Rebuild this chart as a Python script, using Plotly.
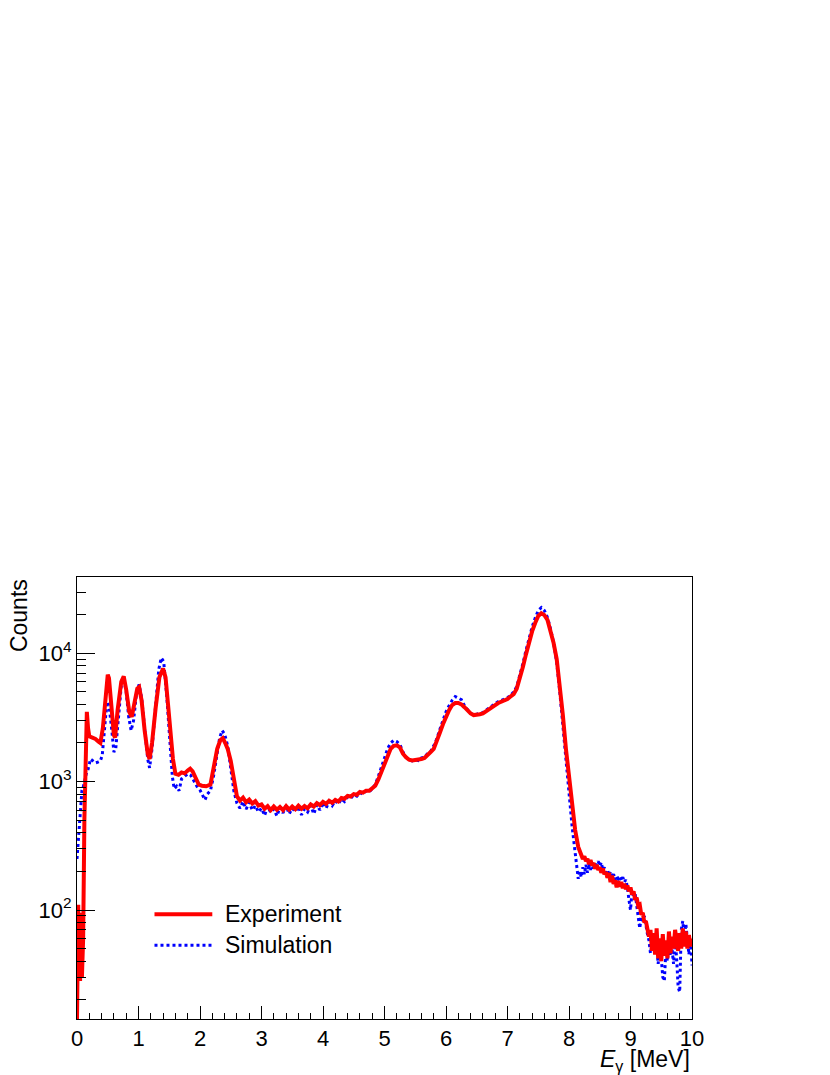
"""Gamma spectrum: experiment vs simulation, log scale (ROOT-like style)."""
import plotly.graph_objects as go


def grid(start, stop, step):
    n = round((stop - start) / step)
    return [round(start + i * step, 3) for i in range(n + 1)]


# ---- experiment (counts) ----
exp_e_low = [
    0.00, 0.02, 0.03, 0.04, 0.05, 0.06, 0.08, 0.10, 0.12, 0.14, 0.16, 0.18,
    0.20, 0.25, 0.30, 0.35, 0.38, 0.42, 0.46, 0.50, 0.52, 0.56, 0.60, 0.62,
    0.66, 0.72, 0.76, 0.80, 0.85, 0.89, 0.93, 0.98, 1.01, 1.05, 1.10, 1.15,
    1.18, 1.22, 1.28, 1.34, 1.40, 1.44, 1.48, 1.52, 1.56, 1.60, 1.65, 1.70,
    1.75, 1.80, 1.84, 1.88, 1.93, 1.98, 2.03, 2.10, 2.17, 2.22, 2.28, 2.33,
    2.37, 2.41, 2.45, 2.50, 2.55,
]
exp_c_low = [
    14, 110, 30, 95, 28, 80, 30, 60, 500, 1800, 3500, 2600,
    2250, 2200, 2150, 2050, 2000, 2600, 4500, 6800, 6400, 3500, 2300, 2200,
    3600, 6000, 6600, 5200, 3500, 3200, 4000, 5300, 5450, 4300, 2500, 1650,
    1500, 2000, 3800, 6500, 7600, 6500, 4000, 2500, 1500, 1150, 1130, 1180,
    1160, 1220, 1260, 1200, 1050, 950, 930, 920, 950, 1300, 1800, 2100,
    2180, 2000, 1800, 1450, 1000,
]
# 2.60 - 4.80 MeV, 0.05 MeV steps
exp_c_flat = [
    770, 710, 750, 690, 725, 675, 705, 650, 665, 615,
    645, 600, 640, 605, 635, 600, 645, 605, 640, 610,
    650, 615, 645, 620, 665, 640, 680, 655, 695, 670,
    710, 685, 720, 700, 745, 735, 775, 765, 800, 790,
    830, 820, 850, 850, 885,
]
# 4.85 - 8.15 MeV, 0.05 MeV steps
exp_c_peaks = [
    930, 1040, 1200, 1400, 1600, 1800, 1900, 1920, 1850, 1650,
    1550, 1480, 1460, 1470, 1500, 1500, 1530, 1600, 1700, 1800,
    2050, 2400, 2800, 3200, 3600, 3950, 4100, 4100, 4000, 3800,
    3550, 3400, 3300, 3300, 3350, 3400, 3550, 3700, 3850, 3950,
    4100, 4200, 4300, 4400, 4600, 4800, 5300, 6300, 7800, 9800,
    12200, 14800, 17200, 19500, 20500, 19800, 18200, 15000, 12000, 9000,
    5800, 3300, 1800, 1050, 620, 420, 310,
]
# 8.20 - 10.00 MeV, 0.025 MeV steps
exp_c_tail = [
    275, 250, 262, 240, 250, 228, 245, 222, 232, 210,
    225, 205, 215, 195, 210, 190, 198, 178, 195, 165,
    185, 160, 170, 150, 168, 152, 165, 148, 160, 145,
    155, 140, 150, 132, 140, 120, 125, 108, 110, 92,
    95, 80, 82, 70, 62, 70, 48, 66, 45, 72,
    42, 60, 40, 65, 44, 58, 42, 68, 46, 62,
    50, 70, 55, 48, 66, 50, 72, 52, 68, 50,
    64, 52, 60,
]

# ---- simulation ----
sim_e_low = [
    0.00, 0.02, 0.04, 0.06, 0.08, 0.10, 0.12, 0.15, 0.18, 0.22, 0.26, 0.30,
    0.34, 0.38, 0.41, 0.44, 0.47, 0.50, 0.53, 0.57, 0.60, 0.63, 0.67, 0.72,
    0.76, 0.80, 0.84, 0.88, 0.92, 0.97, 1.01, 1.05, 1.10, 1.15, 1.18, 1.22,
    1.28, 1.33, 1.37, 1.41, 1.46, 1.50, 1.55, 1.58, 1.62, 1.66, 1.70, 1.75,
    1.80, 1.85, 1.90, 1.95, 2.00, 2.04, 2.08, 2.12, 2.17, 2.22, 2.27, 2.32,
    2.36, 2.40, 2.45, 2.50, 2.55,
]
sim_c_low = [
    250, 350, 480, 700, 850, 900, 1000, 1150, 1250, 1500, 1450, 1400,
    1420, 1450, 1600, 2300, 3400, 4200, 3600, 2400, 1700, 1800, 3200, 5600,
    6400, 5000, 3200, 2500, 3000, 5000, 5700, 4500, 2600, 1500, 1280, 1800,
    4000, 7500, 9200, 8600, 4600, 2300, 1100, 880, 920, 850, 1050, 1100,
    1150, 1120, 1000, 920, 860, 780, 720, 800, 850, 1100, 1600, 2200,
    2500, 2350, 1900, 1300, 850,
]
# 2.60 - 4.80 MeV, 0.05 MeV steps
sim_c_flat = [
    680, 620, 700, 610, 690, 600, 650, 580, 620, 545,
    640, 575, 610, 540, 630, 570, 650, 560, 620, 585,
    640, 550, 615, 580, 650, 560, 660, 600, 690, 620,
    700, 650, 710, 670, 735, 700, 760, 740, 790, 770,
    820, 800, 845, 830, 880,
]
# 4.85 - 8.05 MeV, 0.05 MeV steps
sim_c_peaks = [
    950, 1100, 1300, 1550, 1800, 2000, 2100, 2050, 1950, 1700,
    1550, 1480, 1450, 1480, 1460, 1530, 1550, 1650, 1720, 1900,
    2150, 2550, 3000, 3500, 3900, 4300, 4600, 4500, 4350, 3900,
    3600, 3400, 3300, 3350, 3400, 3450, 3600, 3750, 3950, 4050,
    4200, 4300, 4450, 4500, 4700, 5000, 5500, 6600, 8300, 10500,
    13200, 16000, 18800, 21500, 22700, 21500, 19000, 15500, 12000, 8500,
    5000, 2700, 1400, 800, 450,
]
# 8.10 - 10.00 MeV, 0.025 MeV steps
sim_c_tail = [
    280, 215, 175, 200, 180, 215, 190, 225, 195, 230,
    205, 235, 210, 230, 215, 240, 220, 235, 205, 215,
    195, 205, 185, 200, 180, 190, 172, 185, 175, 182,
    170, 180, 165, 172, 150, 120, 100, 140, 130, 135,
    110, 90, 72, 88, 82, 90, 75, 65, 58, 46,
    55, 60, 45, 52, 38, 55, 42, 30, 28, 48,
    40, 55, 44, 50, 38, 60, 42, 25, 23, 70,
    82, 60, 78, 55, 45, 60, 37,
]

exp_energy = exp_e_low + grid(2.60, 4.80, 0.05) + grid(4.85, 8.15, 0.05) + grid(8.20, 10.0, 0.025)
exp_counts = exp_c_low + exp_c_flat + exp_c_peaks + exp_c_tail
sim_energy = sim_e_low + grid(2.60, 4.80, 0.05) + grid(4.85, 8.05, 0.05) + grid(8.10, 10.0, 0.025)
sim_counts = sim_c_low + sim_c_flat + sim_c_peaks + sim_c_tail
assert len(exp_energy) == len(exp_counts) and len(sim_energy) == len(sim_counts)

x_ticks = list(range(0, 11))
y_ticks = [100, 1000, 10000]
y_ticktext = ["10<sup>2</sup>", "10<sup>3</sup>", "10<sup>4</sup>"]
y_minor = [m * 10 ** d for d in (1, 2, 3, 4) for m in range(2, 10)]

FONT = "Liberation Sans, Arial, Helvetica, sans-serif"
FS = 23
TICK_FS = 22

fig = go.Figure()
fig.add_trace(go.Scatter(
    x=sim_energy, y=sim_counts, mode="lines", name="Simulation",
    line=dict(color="#0000ff", width=3, dash="dot"), showlegend=False,
))
fig.add_trace(go.Scatter(
    x=exp_energy, y=exp_counts, mode="lines", name="Experiment",
    line=dict(color="#ff0000", width=4), showlegend=False,
))

# ROOT-style legend drawn by hand (no box)
legend_items = [("Experiment", "#ff0000", "solid", 4, 0.237),
                ("Simulation", "#0000ff", "dot", 3, 0.167)]
for label, color, dash, width, ypos in legend_items:
    fig.add_shape(type="line", xref="paper", yref="paper",
                  x0=0.126, x1=0.220, y0=ypos, y1=ypos,
                  line=dict(color=color, width=width, dash=dash))
    fig.add_annotation(text=label, xref="paper", yref="paper",
                       x=0.237, y=ypos, xanchor="left", yanchor="middle",
                       showarrow=False, font=dict(size=FS, color="black"))

fig.add_annotation(text="<i>E</i><sub>γ</sub> [MeV]", xref="paper", yref="paper",
                   x=1.0, y=-0.094, xanchor="right", yanchor="middle",
                   showarrow=False, font=dict(size=FS, color="black"))
fig.add_annotation(text="Counts", xref="paper", yref="paper",
                   x=-0.095, y=1.0, xanchor="center", yanchor="top",
                   textangle=-90, showarrow=False,
                   font=dict(size=FS, color="black"))

fig.update_xaxes(
    range=[0, 10], tickvals=x_ticks, ticks="inside", ticklen=13,
    tickcolor="black", tickwidth=1, showline=True, linecolor="black",
    linewidth=1, mirror=True, showgrid=False, zeroline=False,
    tickfont=dict(size=TICK_FS, color="black"),
    minor=dict(dtick=0.2, ticks="inside", ticklen=6, tickcolor="black",
               showgrid=False),
)
fig.update_yaxes(
    type="log", range=[1.151, 4.594], tickvals=y_ticks, ticktext=y_ticktext,
    ticks="inside", ticklen=18, tickcolor="black", tickwidth=1,
    showline=True, linecolor="black", linewidth=1, mirror=True,
    showgrid=False, zeroline=False, tickfont=dict(size=TICK_FS, color="black"),
    minor=dict(tickmode="array", tickvals=y_minor, ticks="inside", ticklen=9,
               tickcolor="black", showgrid=False),
)
# the page body adds an 8px margin, so the figure is 8px smaller
fig.update_layout(
    width=822, height=1067,
    margin=dict(l=69, r=138, t=569, b=56),
    paper_bgcolor="white", plot_bgcolor="white",
    font=dict(family=FONT, color="black"),
    showlegend=False,
)

fig.write_html("out.html")
